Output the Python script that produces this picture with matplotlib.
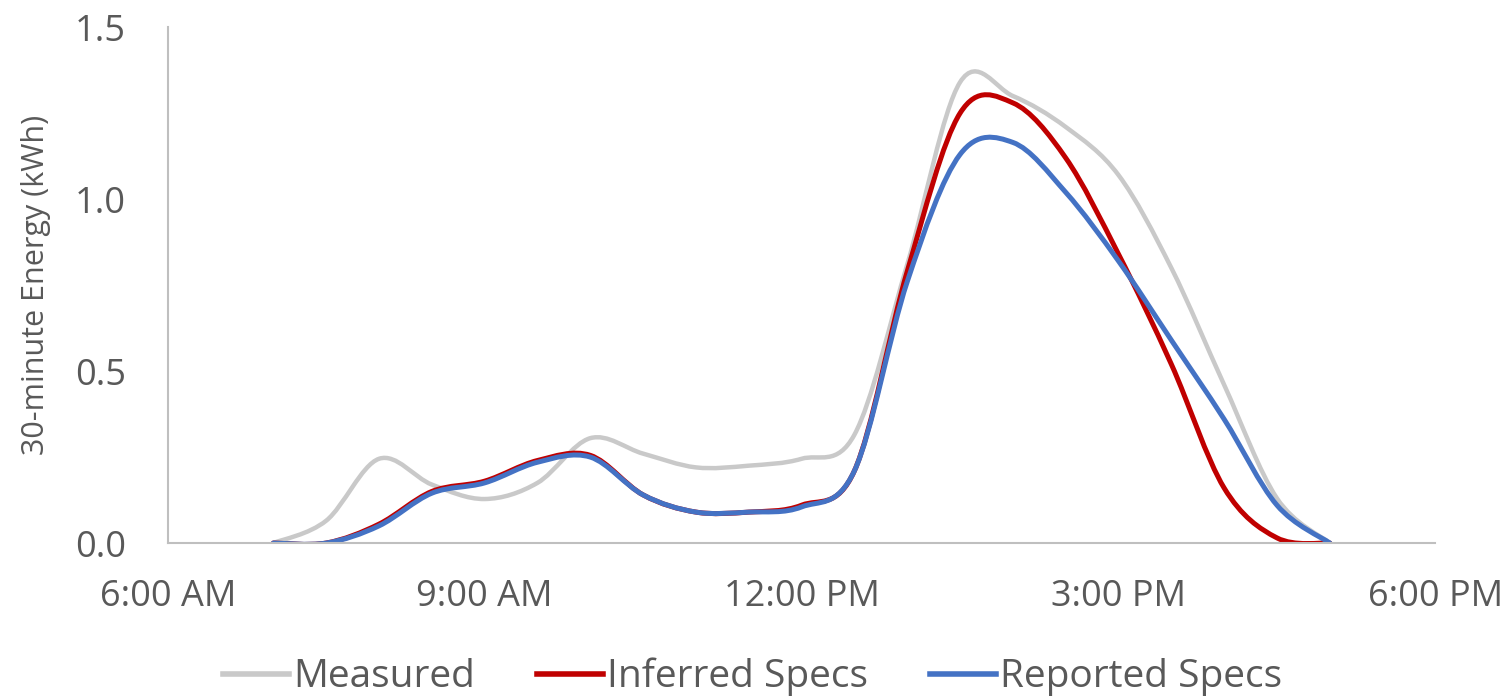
import numpy as np
import matplotlib.pyplot as plt
from matplotlib.path import Path
from matplotlib.patches import PathPatch
from matplotlib.lines import Line2D

times = ["7:00", "7:30", "8:00", "8:30", "9:00", "9:30", "10:00", "10:30", "11:00",
         "11:30", "12:00", "12:30", "13:00", "13:30", "14:00", "14:30", "15:00",
         "15:30", "16:00", "16:30", "17:00"]
measured = [0.0, 0.065, 0.245, 0.17, 0.128, 0.175, 0.305, 0.26, 0.22, 0.225, 0.245,
            0.315, 0.81, 1.34, 1.3, 1.21, 1.07, 0.8, 0.46, 0.13, 0.0]
inferred = [0.0, 0.0, 0.055, 0.15, 0.18, 0.24, 0.255, 0.14, 0.09, 0.09, 0.11,
            0.21, 0.79, 1.25, 1.28, 1.12, 0.84, 0.52, 0.16, 0.015, 0.0]
reported = [0.0, 0.0, 0.05, 0.145, 0.175, 0.235, 0.25, 0.14, 0.09, 0.09, 0.105,
            0.21, 0.76, 1.13, 1.165, 1.02, 0.82, 0.59, 0.36, 0.11, 0.0]

names = ["Measured", "Inferred Specs", "Reported Specs"]
colors = ["#C9C9C9", "#C00000", "#4472C4"]

xtick_pos = [6, 9, 12, 15, 18]
xtick_lab = ["6:00 AM", "9:00 AM", "12:00 PM", "3:00 PM", "6:00 PM"]
ytick_pos = [0.0, 0.5, 1.0, 1.5]

hours = [int(t.split(":")[0]) + int(t.split(":")[1]) / 60 for t in times]

plt.rcParams['font.family'] = ['Open Sans', 'DejaVu Sans']


def smooth_path(x, y):
    # excel-like smoothed line: cubic bezier through each point
    p = np.column_stack([x, y])
    n = len(p)
    verts = [p[0]]
    codes = [Path.MOVETO]
    for i in range(n - 1):
        a = p[max(i - 1, 0)]
        b = p[min(i + 2, n - 1)]
        c1 = p[i] + (p[i + 1] - a) / 6
        c2 = p[i + 1] - (b - p[i]) / 6
        verts += [c1, c2, p[i + 1]]
        codes += [Path.CURVE4] * 3
    return Path(verts, codes)


fig = plt.figure(figsize=(15.11, 6.98), dpi=100)
ax = fig.add_axes([0.111, 0.222, 0.839, 0.739])

for vals, c, lw in zip([measured, inferred, reported], colors, [3.2, 3.6, 3.6]):
    patch = PathPatch(smooth_path(hours, vals), facecolor="none", edgecolor=c,
                      lw=lw, capstyle="round", joinstyle="round")
    ax.add_patch(patch)

ax.set_xlim(6, 18)
ax.set_ylim(0, 1.5)
ax.set_xticks(xtick_pos)
ax.set_xticklabels(xtick_lab)
ax.set_yticks(ytick_pos)
ax.set_yticklabels(["{:.1f}".format(v) for v in ytick_pos])
ax.tick_params(axis="both", length=0, labelsize=26, colors="#595959")
ax.tick_params(axis="x", pad=26)
ax.tick_params(axis="y", pad=30)
ax.set_ylabel("30-minute Energy (kWh)", fontsize=22, color="#595959")
ax.yaxis.set_label_coords(-0.092, 0.5)

for s in ["top", "right"]:
    ax.spines[s].set_visible(False)
for s in ["left", "bottom"]:
    ax.spines[s].set_color("#BFBFBF")
    ax.spines[s].set_linewidth(1.5)

handles = [Line2D([], [], color=c, lw=4) for c in colors]
fig.legend(handles, names, loc="center", bbox_to_anchor=(0.498, 0.03),
           ncol=3, frameon=False, fontsize=28, handlelength=1.7,
           handletextpad=0.1, columnspacing=1.6, labelcolor="#595959")

fig.savefig("out.png", dpi=100)
